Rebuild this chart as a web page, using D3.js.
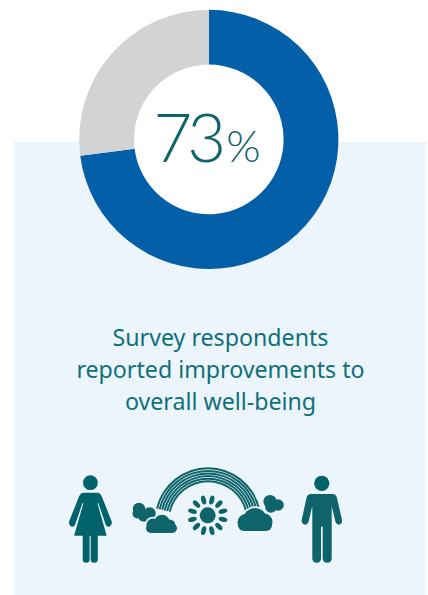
<!DOCTYPE html>
<html>
<head>
<meta charset="utf-8">
<script src="https://cdn.jsdelivr.net/npm/d3@7/dist/d3.min.js"></script>
<style>
html, body { margin: 0; padding: 0; background: #fff; }
svg { display: block; }
</style>
</head>
<body>
<script>
// Share of respondents reporting an improvement
const categories = ["Improved", "Other"];
const shares = [73, 27];
const sliceColors = ["#045fa9", "#d1d3d4"];
const headlineValue = "73";
const captionLines = ["Survey respondents", "reported improvements to", "overall well-being"];

const teal = "#0f646b";
const deepTeal = "#00636b";
const panel = "#ecf5fc";
const W = 428, H = 595;
const svg = d3.select("body").append("svg").attr("width", W).attr("height", H);

svg.append("rect").attr("x", 14).attr("y", 142).attr("width", 412).attr("height", 453).attr("fill", panel);

const cx = 208.8, cy = 139.4, rOuter = 129.6, rInner = 74.8;
const donut = svg.append("g").attr("transform", `translate(${cx},${cy})`);
const pie = d3.pie().sort(null)(shares);
const arc = d3.arc().innerRadius(rInner).outerRadius(rOuter);
donut.append("circle").attr("r", rInner).attr("fill", "#fff");
donut.selectAll("path").data(pie).join("path")
  .attr("d", arc)
  .attr("fill", (d, i) => sliceColors[i])
  .append("title").text((d, i) => categories[i]);

// Headline number with a smaller percent sign
const big = svg.append("text").attr("x", 153.5).attr("y", 162)
  .attr("fill", teal).attr("font-family", "Lato").attr("font-weight", 300);
big.append("tspan").attr("font-size", 67).attr("letter-spacing", -5).text(headlineValue);
big.append("tspan").attr("font-size", 44).attr("dx", 5).text("%");

// Caption
svg.append("g").selectAll("text").data(captionLines).join("text")
  .attr("x", 220.5).attr("y", (d, i) => 346 + i * 32)
  .attr("text-anchor", "middle")
  .attr("font-family", "Noto Sans").attr("font-size", 23.2).attr("fill", "#10707a")
  .text(d => d);

// Pictograms
const icons = svg.append("g").attr("fill", teal);

// Woman
icons.append("circle").attr("cx", 90.4).attr("cy", 482.7).attr("r", 7.4).attr("fill", deepTeal);
icons.append("path").attr("fill", deepTeal).attr("d",
  "M84,492.7 L97,492.7 Q100.5,492.7 102,497 L111.5,521 Q112.6,525 109.6,526.5 Q106.8,527.5 105.6,524.5 L98.3,503 L97.5,503.5 L106.7,535.7 L97.8,535.7 L97.8,559.5 Q97.8,562.7 94.2,562.7 Q90.7,562.7 90.7,559.5 L90.7,535.7 L89.6,535.7 L89.6,559.5 Q89.6,562.7 86.2,562.7 Q82.7,562.7 82.7,559.5 L82.7,535.7 L74.1,535.7 L83.3,503.5 L82.5,503 L75.2,524.5 Q74,527.5 71.2,526.5 Q68.2,525 69.3,521 L78.8,497 Q80.3,492.7 84,492.7 Z");

// Man
icons.append("circle").attr("cx", 321.8).attr("cy", 483.3).attr("r", 7.6).attr("fill", deepTeal);
icons.append("path").attr("d",
  "M311,494 L332.5,494 Q336,494 337,498 L342,520 Q342.5,524 339.5,524.6 Q336.5,525 335.5,522 L331.7,506 L331.7,558 Q331.7,562.7 327.2,562.7 Q322.7,562.7 322.7,558 L322.7,526.7 L321,526.7 L321,558 Q321,562.7 316.6,562.7 Q312.3,562.7 312.3,558 L312.3,506 L308.5,522 Q307.5,525 304.5,524.6 Q301.3,524 301.7,520 L306.5,498 Q307.3,494 311,494 Z");

// Rounded lobes that make up one cloud; the halo keeps overlaps legible
function drawCloud(lobes, pills, halo) {
  const g = icons.append("g");
  const paint = (grow, color) => {
    lobes.forEach(l => g.append("circle")
      .attr("cx", l[0]).attr("cy", l[1]).attr("r", l[2] + grow).attr("fill", color));
    pills.forEach(p => g.append("rect")
      .attr("x", p[0] - grow).attr("y", p[1] - grow)
      .attr("width", p[2] + 2 * grow).attr("height", p[3] + 2 * grow)
      .attr("rx", p[3] / 2 + grow).attr("fill", color));
  };
  if (halo) paint(1.8, panel);
  paint(0, teal);
}

// Small clouds behind the rainbow
drawCloud([[139, 509, 6.2], [137.5, 513.5, 5], [149.5, 513.5, 6.2], [144, 515.5, 6.2]], [], false);
drawCloud([[270, 501.5, 6.6], [278, 505, 5.8], [271, 507, 5.8]], [], false);

// Rainbow bands
const rainbowX = 208, rainbowY = 520.6;
const bandRadii = [52.3, 49.7, 47.1, 44.5, 41.9, 39.3];
const bandAngle = 1.34;
const rainbow = icons.append("g").attr("transform", `translate(${rainbowX},${rainbowY})`);
bandRadii.forEach(r => {
  rainbow.append("path")
    .attr("d", d3.arc()({ innerRadius: r - 1, outerRadius: r + 1, startAngle: -bandAngle, endAngle: bandAngle }));
});

// Front clouds
drawCloud([[162, 522.5, 7.8], [153, 525, 6.5], [169.5, 525.5, 6]], [[146, 523.5, 31, 9.5]], true);
drawCloud([[255, 519.5, 11.5], [246, 522.5, 8.5], [264, 522, 8.5]], [[238, 519, 34, 12]], true);

// Sun
const sun = icons.append("g").attr("transform", "translate(207.7,515.3)");
sun.append("circle").attr("r", 8);
d3.range(12).forEach(i => {
  sun.append("ellipse").attr("cy", -15.8).attr("rx", 2.4).attr("ry", 4.5)
    .attr("transform", `rotate(${15 + i * 30})`);
});
</script>
</body>
</html>
